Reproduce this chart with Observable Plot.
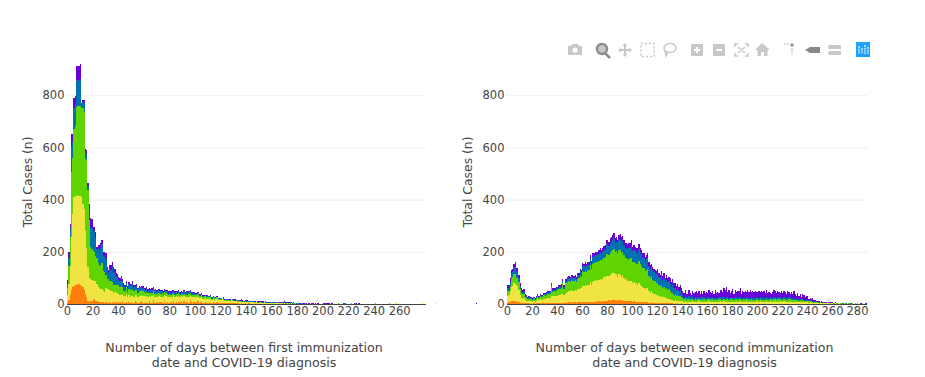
<!DOCTYPE html>
<html>
<head>
<meta charset="utf-8">
<script src="https://cdn.jsdelivr.net/npm/d3@7"></script>
<script src="https://cdn.jsdelivr.net/npm/@observablehq/plot@0.6"></script>
<style>
html,body{margin:0;padding:0;background:#fff;width:925px;height:377px;overflow:hidden}
svg{position:absolute;left:0;top:0;background:transparent}
</style>
</head>
<body>
<script>
const seriesNames = ["Group A","Group B","Group C","Group D","Group E"];
const seriesColors = ["#ff7f0e","#f0e442","#5fd400","#0072b2","#6a00d8"];

const firstOrange = [
5,15,35,55,65,70,72,75,74,78, 72,70,65,55,40,25,12,8,10,12, 14,18,12,10,8,6,6,8,6,5,
7,5,6,8,5,6,4,7,5,6, 5,8,3,12,5,4,9,3,7,4, 6,3,4,11,7,3,4,6,13,4,
5,7,3,5,10,4,5,14,4,3, 6,4,9,7,3,4,12,5,8,4, 5,6,4,13,5,6,3,8,6,10,
5,12,4,6,9,5,14,6,4,7, 6,5,11,4,6,9,4,3,8,4, 3,7,4,2,6,4,3,8,2,3,
4,2,3,3,2,4,2,3,2,2, 3,2,1,2,2,1,2,1,1,2, 1,1,2,1,1,1,0,1,1,0,
1,0,1,0,1,0,0,1,0,0, 0,1,0,0,1,0,0,0,1,0];
const firstYellow = [
30,60,110,200,280,340,340,340,345,335, 340,340,320,310,240,190,130,90,85,80, 75,70,75,65,58,55,50,48,45,42,
55,52,50,46,44,42,40,38,36,38, 34,28,32,27,24,25,28,22,26,24, 25,27,24,22,26,23,25,24,22,25,
24,22,26,23,21,24,25,22,23,24, 22,25,23,21,24,22,23,25,20,23, 23,21,24,22,20,23,24,22,21,20,
22,18,24,21,19,22,18,21,23,19, 20,21,17,20,16,18,17,18,15,16, 17,14,16,15,14,13,15,12,14,12,
11,13,12,10,11,9,11,10,9,10, 8,9,9,7,8,8,6,7,6,7, 6,7,5,6,5,6,5,4,5,4,
4,5,3,4,3,4,3,2,3,3, 3,2,3,2,3,2,2,3,2,1, 2,1,2,1,1,2,1,1,1,1,
1,1,0,1,1,0,1,0,0,1, 0,0,1,0,0,0,0,0,0,0, 0,0,0,0,0,0,0,0,0,0,
0,0,0,0,0,0,0,0,0,0, 0,0,0,0,0,0,0,0,0,0, 0,0,0,0,0,0,0,0,0,0,
0,0,0,0,0,0,0,0,0,0, 0,0,0,0,0,0,0,2,0,0, 2,0,0,0,0,0,0,0,0,0,
0,0,0,0,0,0,0,0,2,0, 0,0,0,0,0,0,0,0,2,0];
const firstGreen = [
25,70,110,250,215,260,270,340,340,345, 345,340,365,370,275,335,295,225,125,120, 115,110,95,100,90,85,95,100,75,75,
50,40,40,36,38,36,30,28,30,28, 32,30,35,28,22,20,28,20,26,24, 24,26,22,20,22,18,20,18,17,20,
16,15,18,14,13,15,14,12,13,15, 12,13,11,12,14,10,11,13,10,9, 10,9,11,8,10,9,10,11,8,9,
9,10,8,9,8,10,9,7,8,9, 8,7,9,6,7,8,6,8,6,5, 6,5,7,4,6,5,4,5,3,5,
4,3,5,3,4,3,3,2,3,3, 3,2,2,3,1,2,3,1,2,1, 2,1,2,1,2,1,1,2,0,1,
2,2,2,1,2,2,1,2,2,1, 2,1,2,1,2,1,3,1,2,1, 2,1,2,1,2,1,0,2,1,0,
1,0,0,1,0,0,1,0,0,0, 1,0,0,0,0,1,0,0,0,0, 0,0,0,0,0,0,0,0,0,0,
0,0,3,0,0,0,0,0,0,0, 0,0,3,0,0,0,0,0,0,0, 0,0,0,0,0,0,0,0,0,0,
0,3,0,0,0,0,0,0,0,0, 0,0,3,0,0,0,0,0,0,0];
const firstBlue = [
15,30,40,95,60,80,85,100,100,100, 105,15,25,35,30,25,15,42,75,80, 70,80,70,35,55,62,65,72,58,60,
60,32,22,44,45,56,50,45,34,30, 22,24,28,20,19,16,16,17,18,18, 16,26,15,14,14,12,15,12,12,13,
11,10,12,9,11,9,10,12,8,10, 9,10,8,9,7,9,8,6,10,8, 8,7,9,6,8,7,6,8,7,6,
7,8,6,9,7,8,7,6,8,7, 6,5,6,4,5,4,5,3,4,5, 3,4,3,5,2,4,3,2,3,2,
3,2,3,1,3,2,2,1,2,3, 3,2,3,2,3,2,2,3,2,2, 3,2,3,2,1,3,2,2,1,2,
2,1,3,2,1,3,1,2,1,3, 1,2,1,3,1,2,1,1,3,1, 3,1,1,3,1,0,3,1,0,1,
0,1,0,0,1,0,0,0,1,0, 0,1,0,0,0,0,1,0,0,0, 0,0,2,0,0,0,0,0,0,0,
0,0,0,0,0,0,0,2,0,0, 0,0,0,0,0,2,0,0,0,0];
const firstPurple = [
17,25,13,50,30,40,28,55,51,52, 56,5,7,10,7,15,10,20,33,32, 22,18,22,10,14,17,19,17,16,18,
22,14,12,16,18,20,19,17,12,13, 9,10,11,10,9,8,7,8,8,8, 7,8,7,6,7,6,6,6,6,6,
6,7,5,6,5,6,7,5,6,5, 5,6,5,4,6,5,4,6,5,4, 4,6,5,4,5,3,5,4,3,5,
4,5,4,6,5,4,6,5,4,3, 3,4,2,3,4,2,3,3,2,4, 3,2,3,2,3,2,1,3,2,1,
2,1,2,3,1,2,1,2,1,1, 2,3,2,2,3,2,5,3,2,2, 2,3,1,2,3,1,3,1,2,3,
3,2,1,3,2,1,3,1,3,1, 2,1,3,3,1,3,2,1,1,3, 3,4,3,1,3,3,1,3,1,3,
3,0,2,2,0,3,0,2,0,2, 0,2,3,0,2,0,2,0,0,0, 3,3,0,2,3,3,0,2,0,0,
0,0,2,0,0,0,2,0,0,0, 0,0,0,0,0,0,2,0,2,0, 0,0,0,0,0,0,0,0,0,0,
0,0,0,0,0,0,0,0,0,0, 0,0,0,0,0,0,0,0,0,0, 0,0,0,0,0,0,0,0,0,0,
0,0,0,0,0,0,0,0,0,0, 0,0,0,0,0,0,0,0,0,0, 0,0,0,0,0,0,0,0,0,0,
0,0,0,0,0,0,0,0,0,0, 0,0,0,0,0,0,0,0,0,0, 4];

const secondOrange = [
5,6,8,10,12,12,10,9,10,7, 5,4,3,3,3,2,2,2,1,2, 1,2,1,2,3,2,3,2,3,3,
3,3,4,3,4,4,4,5,4,4, 5,5,4,5,5,4,5,6,5,6,
6,6,5,7,6,5,7,6,7,6, 7,8,7,8,7,8,9,8,9,8, 9,10,9,10,11,9,11,10,12,11,
12,14,13,15,14,16,14,15,13,14, 14,13,14,12,13,12,11,12,11,10, 9,10,8,9,8,9,8,7,8,7,
6,7,6,5,5,6,5,4,5,4, 4,3,4,3,3,3,2,3,2,3, 2,2,2,1,2,1,2,1,1,2,
1,1,1,0,1,1,0,1,1,0, 1,0,1,1,0,1,1,0,1,0, 1,1,0,1,1,0,0,1,1,0, 1,0,1,1,0,1,0,1,1,0,
1,1,0,1,0,1,1,0,1,1, 0,1,1,0,1,0,1,1,0,1, 1,0,1,1,0,1,0,1,1,0, 1,1,0,1,1,0,1,0,1,1,
0,1,1,0,1,0,1,1,0,1, 1,0,1,0,0,1,0,1,0,0];
const secondYellow = [
25,28,42,55,58,68,65,62,60,48, 30,20,18,20,13,11,9,10,9,10, 8,10,8,11,15,12,15,14,13,17,
16,19,20,21,20,25,25,24,25,27, 26,30,31,32,34,31,33,35,40,42,
42,48,46,44,47,44,50,51,56,54, 63,62,66,60,65,66,74,66,76,80, 82,78,84,82,86,84,84,92,90,96,
96,92,100,102,106,104,100,100,92,100, 98,92,96,88,80,82,76,78,76,78, 70,74,68,70,66,72,66,62,58,56,
50,54,56,44,38,42,36,36,32,30, 30,26,24,26,22,24,20,20,18,18, 16,14,14,12,12,11,11,10,10,9,
9,8,9,7,8,8,7,8,9,7, 8,7,8,9,7,8,7,9,8,7, 8,9,7,8,8,7,9,8,7,8, 9,8,7,9,8,8,9,7,8,9,
8,7,9,8,7,8,9,8,7,8, 7,9,8,8,7,9,8,7,8,9, 8,7,9,7,8,8,7,9,8,7, 9,8,7,8,9,7,8,8,9,7,
8,9,7,8,7,9,8,7,8,8, 7,8,6,7,8,6,7,6,7,6, 6,5,6,5,5,4,5,4,4,3, 3,3,2,3,2,2,2,3,1,2,
2,1,2,1,1,2,1,1,1,1, 1,1,0,1,1,0,1,0,1,0, 1,0,1,0,1,0,0,1,0];
const secondGreen = [
18,17,20,30,32,35,40,30,35,28, 22,18,16,15,11,10,9,9,8,8, 7,9,7,9,11,9,11,10,10,13,
13,14,16,15,16,38,18,19,18,21, 22,23,22,24,40,24,42,38,40,41,
35,38,38,36,38,35,40,42,46,45, 55,54,55,56,58,56,66,60,68,68, 68,72,66,72,72,70,76,76,78,86,
84,80,84,86,88,92,84,88,86,94, 96,92,90,88,82,82,82,84,88,90, 80,78,80,76,78,82,78,76,72,74,
70,70,72,60,56,58,52,50,50,48, 48,44,40,44,38,40,36,38,34,36, 30,26,28,22,24,20,20,18,19,15,
12,11,13,10,10,11,10,9,11,9, 10,9,11,9,8,10,9,10,8,9, 9,10,8,9,10,8,9,8,9,10, 10,9,8,11,9,10,9,8,9,10,
9,8,10,9,8,9,10,9,8,9, 8,10,9,8,9,10,8,9,9,10, 9,8,10,9,9,8,9,10,8,9, 10,9,9,10,9,8,9,10,9,8,
9,10,8,9,8,10,9,8,8,7, 8,7,8,6,7,6,7,6,6,5, 5,6,4,5,4,3,4,3,3,2, 3,2,2,2,2,1,2,1,2,1,
2,1,1,2,1,1,1,1,0,1, 1,0,1,1,0,1,1,0,1,1, 1,1,0,1,1,0,1,0,1];
const secondBlue = [
12,10,15,20,20,25,27,25,22,16, 12,10,9,8,6,5,4,5,4,4, 3,4,3,4,5,4,5,4,4,6,
5,6,6,6,6,8,7,7,8,8, 8,9,10,9,9,8,10,9,12,11,
12,13,14,13,13,13,13,14,16,16, 21,20,19,20,20,20,25,21,28,26, 28,27,29,28,30,28,28,30,31,36,
38,36,37,36,38,42,36,36,36,38, 42,40,42,39,40,40,42,40,40,48, 44,46,46,42,44,48,44,45,40,40,
39,40,44,38,36,35,36,32,32,33, 38,32,30,36,30,33,27,32,30,32, 30,25,31,26,25,20,23,19,22,17,
11,8,12,8,8,10,8,7,9,7, 7,8,6,8,7,6,8,6,7,7, 7,6,8,6,7,8,6,7,6,7, 8,7,9,7,7,6,8,7,6,7,
6,7,8,7,6,7,6,7,8,6, 7,6,7,8,6,7,7,6,7,8, 6,7,6,7,8,6,7,6,7,7, 7,6,8,7,6,7,7,8,6,7,
6,7,8,6,7,6,7,6,5,6, 5,6,5,5,4,5,4,4,3,4, 3,3,2,3,2,2,2,2,1,2, 2,1,1,1,2,1,1,1,1,1,
1,1,1,2,0,1,1,0,1,2, 0,1,0,1,1,2,0,1,0,0, 1,0,0,1,0,0,1,0,0];
const secondPurple = [
13,12,13,15,14,15,20,13,12,12, 10,8,8,10,5,5,4,4,3,4, 3,3,3,4,4,3,4,4,4,4,
4,5,5,5,5,7,6,5,5,6, 5,6,6,6,6,6,7,6,7,7,
7,8,8,7,7,7,7,7,9,9, 12,11,12,11,12,12,13,11,13,12, 13,13,12,14,14,14,14,14,14,16,
17,16,17,18,18,19,17,18,18,18, 18,18,18,18,19,18,18,18,19,19, 16,17,17,16,17,18,17,16,16,17,
16,16,16,15,14,14,14,14,13,13, 16,15,14,16,15,18,15,17,16,16, 20,18,20,19,19,18,20,18,20,17,
17,14,20,15,11,22,18,11,18,19, 21,24,18,22,16,26,14,23,20,24, 18,26,22,19,24,15,28,20,23,18, 25,31,22,34,28,40,20,29,18,24,
32,17,26,20,28,24,35,16,27,22, 26,19,27,23,30,21,25,22,24,19, 23,26,21,24,20,25,19,26,18,22, 17,14,22,27,24,19,25,21,16,26,
19,24,21,15,28,20,12,23,17,26, 18,9,22,14,19,8,20,17,9,14, 18,7,12,5,11,5,6,3,5,4, 1,4,2,0,2,3,0,1,5,2,
4,1,2,0,1,0,2,1,0,1, 0,1,0,1,0,0,1,0,1,0, 0,0,1,0,0,0,0,1,0];

const xTicksFirst = d3.range(0,261,20);
const xTicksSecond = d3.range(0,281,20);
const yTicks = [0,200,400,600,800];
const yLabel = "Total Cases (n)";
const titleFirst = "Number of days between first immunization\ndate and COVID-19 diagnosis";
const titleSecond = "Number of days between second immunization\ndate and COVID-19 diagnosis";

function rows(arrays){
  const out=[];
  arrays.forEach((a,s)=>a.forEach((v,day)=>{ if(v>0) out.push({day,series:seriesNames[s],n:v}); }));
  return out;
}
function chart({arrays,xMax,xTicks,left,right,title}){
  const font='"DejaVu Sans", sans-serif';
  return Plot.plot({
    width:925,height:377,marginLeft:left,marginRight:925-right,marginTop:61,marginBottom:73,
    style:{fontFamily:font,fontSize:"11.5px",color:"#444",background:"transparent"},
    x:{domain:[0,xMax],label:null},
    y:{domain:[0,931],label:null},
    color:{domain:seriesNames,range:seriesColors},
    marks:[
      Plot.gridY(yTicks,{stroke:"#eee",strokeOpacity:1}),
      Plot.rectY(rows(arrays),{x1:"day",x2:d=>d.day+1,y:"n",fill:"series",z:"series",inset:0,shapeRendering:"crispEdges"}),
      Plot.ruleY([0],{stroke:"#444",strokeWidth:1}),
      Plot.axisX({ticks:xTicks,tickSize:0,tickPadding:2,tickFormat:d=>String(d),fontSize:11.5,label:null}),
      Plot.axisY({ticks:yTicks,tickSize:0,tickPadding:3,tickFormat:d=>String(d),fontSize:11.5,label:null}),
      Plot.text([yLabel],{frameAnchor:"left",textAnchor:"middle",rotate:-90,dx:-39,dy:-1,fontSize:12.4,fill:"#444"}),
      Plot.text([title],{frameAnchor:"bottom",dy:50,dx:-3,lineHeight:1.2,fontSize:12.6,fill:"#444",lineAnchor:"middle"})
    ]
  });
}
document.body.appendChild(chart({arrays:[firstOrange,firstYellow,firstGreen,firstBlue,firstPurple],xMax:281,xTicks:xTicksFirst,left:67,right:426,title:titleFirst}));
document.body.appendChild(chart({arrays:[secondOrange,secondYellow,secondGreen,secondBlue,secondPurple],xMax:288,xTicks:xTicksSecond,left:507,right:867,title:titleSecond}));

// modebar icons
const ns="http://www.w3.org/2000/svg";
const bar=document.createElementNS(ns,"svg");
bar.setAttribute("width",925);bar.setAttribute("height",377);
bar.innerHTML=`
<g fill="#c8c8c8" stroke="none">
<path d="M568 46h3l1-2h6l1 2h3v9h-14z"/><circle cx="575" cy="50" r="2.6" fill="#fff"/>
<circle cx="602" cy="49" r="5" fill="#c8c8c8" stroke="#8c8c8c" stroke-width="2.5"/><path d="M605 53l5 5" stroke="#8c8c8c" stroke-width="2.5"/>
<path d="M625 43l2.5 3h-1.5v3h3v-1.5l3 2.5-3 2.5v-1.5h-3v3h1.5l-2.5 3-2.5-3h1.5v-3h-3v1.5l-3-2.5 3-2.5v1.5h3v-3h-1.5z"/>
<rect x="641" y="43.5" width="13" height="13" fill="none" stroke="#c8c8c8" stroke-width="1.5" stroke-dasharray="2 2"/>
<ellipse cx="670" cy="48" rx="6" ry="4.5" fill="none" stroke="#c8c8c8" stroke-width="1.5"/><path d="M665 51l1 5 2-4" fill="none" stroke="#c8c8c8" stroke-width="1.5"/>
<rect x="691" y="44" width="12" height="12"/><path d="M694 50h6M697 47v6" stroke="#fff" stroke-width="2"/>
<rect x="713" y="44" width="12" height="12"/><path d="M716 50h6" stroke="#fff" stroke-width="2"/>
<path d="M735 47v-3h3M745 44h3v3M748 53v3h-3M738 56h-3v-3M738 47l7 6M745 47l-7 6" fill="none" stroke="#c8c8c8" stroke-width="1.5"/>
<path d="M755 50l7-7 8 7h-2.500v6h-3.500v-4h-3v4h-3.500v-6z"/>
<path d="M784 44h1.500M787 44h1.500" stroke="#c8c8c8" stroke-width="1.500"/><circle cx="792" cy="45" r="1.800" fill="#999"/><path d="M792 48v7" stroke="#c8c8c8" stroke-width="1.500" stroke-dasharray="2 1"/>
<path d="M805 50l5-3h10v6h-10z" fill="#888"/>
<path d="M830 45h11v4h-11a2 2 0 0 1 0-4zM830 51h11v4h-11a2 2 0 0 1 0-4z"/>
</g>
<rect x="856" y="42" width="14" height="15" fill="#1ea0ff"/>
<path d="M859 46v8M862 48v6M865 45v9M868 47v7" stroke="#fff" stroke-width="1.200" stroke-dasharray="2 .7"/>`;
document.body.appendChild(bar);
</script>
</body>
</html>
